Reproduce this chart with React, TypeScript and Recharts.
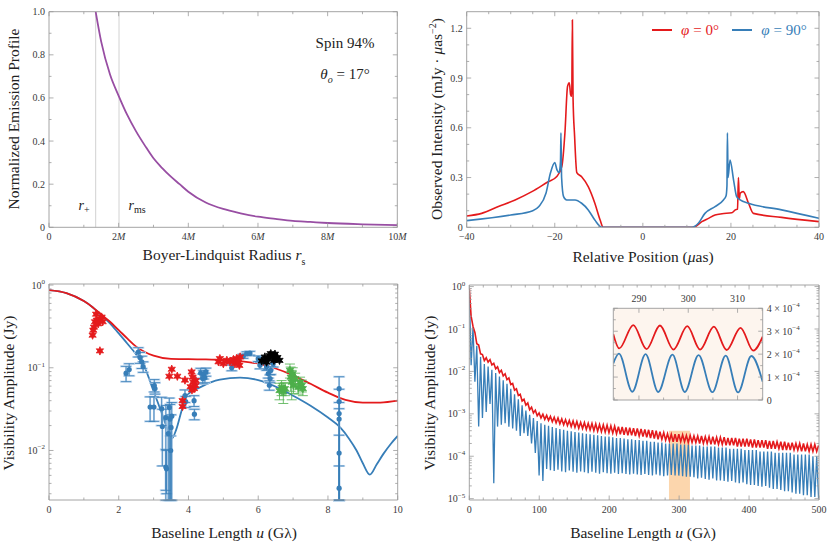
import React from "react";
import {
  ComposedChart,
  Line,
  Scatter,
  ErrorBar,
  XAxis,
  YAxis,
  ReferenceLine,
  ReferenceArea,
} from "recharts";

const SERIF = '"Liberation Serif", "DejaVu Serif", serif';
const RED = "#e41a1c";
const BLUE = "#377eb8";
const GREEN = "#4daf4a";
const PURPLE = "#984ea3";
const FRAME = "#9a9a9a";
const TICK_TEXT = "#3a3a3a";

// ---------- top left: emission profile ----------
const emissionR = [1.34, 1.5, 1.75, 2.0, 2.25, 2.5, 2.75, 3.0, 3.25, 3.5, 3.75, 4.0, 4.5, 5.0, 5.5, 6.0, 6.5, 7.0, 7.5, 8.0, 9.0, 10.0];
const emissionProfile = [1.0, 0.86, 0.71, 0.61, 0.52, 0.445, 0.38, 0.32, 0.275, 0.235, 0.2, 0.165, 0.115, 0.085, 0.065, 0.049, 0.039, 0.03, 0.025, 0.02, 0.014, 0.01];
const rHorizon = 1.34;
const rMs = 2.01;

// ---------- top right: intensity cuts ----------
const posPhi0 = [-40, -36.6, -32.8, -29, -25.2, -21.5, -19.6, -18.4, -17.7, -17.1, -16.7, -16.4, -16.15, -16.0, -15.85, -15.5, -15.0, -13.9, -12.4, -10.9, -9.7, -9.0, 11.5, 13.4, 14.9, 16.4, 18.0, 20.2, 21.0, 21.5, 21.7, 21.9, 22.1, 22.8, 24.0, 25.1, 31.5, 40];
const intPhi0 = [0.068, 0.084, 0.125, 0.165, 0.215, 0.275, 0.305, 0.366, 0.567, 0.85, 0.872, 0.8, 0.79, 1.25, 0.78, 0.55, 0.33, 0.305, 0.245, 0.145, 0.044, 0, 0, 0.034, 0.054, 0.074, 0.082, 0.088, 0.105, 0.11, 0.3, 0.17, 0.205, 0.215, 0.145, 0.084, 0.06, 0.034];
const posPhi90 = [-40, -30, -25, -23.6, -22, -21, -20, -19.5, -19.0, -18.7, -18.6, -18.45, -18.0, -17.3, -15.4, -13.9, -12.4, -10.9, -9.3, 11.1, 12.6, 14.1, 16.4, 18.3, 18.9, 19.1, 19.2, 19.35, 19.8, 20.6, 21.3, 22.1, 24.0, 31.5, 40];
const intPhi90 = [0.04, 0.074, 0.1, 0.125, 0.205, 0.326, 0.39, 0.346, 0.33, 0.4, 0.57, 0.3, 0.185, 0.165, 0.165, 0.145, 0.105, 0.044, 0, 0, 0.024, 0.084, 0.125, 0.165, 0.19, 0.25, 0.57, 0.3, 0.406, 0.285, 0.185, 0.165, 0.145, 0.105, 0.054];

// ---------- bottom left: model visibilities and data ----------
const modelRedU = [0, 0.5, 1, 1.25, 1.5, 1.75, 2.0, 2.25, 2.5, 2.75, 3, 3.5, 4, 4.5, 5, 5.5, 6, 6.5, 7, 7.5, 8, 8.5, 9, 9.5, 10];
const modelRedV = [0.87, 0.8, 0.64, 0.54, 0.44, 0.36, 0.285, 0.225, 0.18, 0.155, 0.14, 0.128, 0.127, 0.126, 0.125, 0.12, 0.112, 0.098, 0.081, 0.064, 0.05, 0.041, 0.038, 0.038, 0.04];
const modelBlueU = [0, 0.5, 1, 1.25, 1.5, 1.75, 2.0, 2.25, 2.5, 2.75, 3.0, 3.2, 3.4, 3.52, 3.65, 3.8, 3.95, 4.33, 4.9, 5.48, 6.0, 6.62, 7.0, 7.49, 8.0, 8.35, 8.6, 8.82, 9.0, 9.2, 9.4, 9.59, 9.8, 10];
const modelBlueV = [0.87, 0.8, 0.64, 0.54, 0.43, 0.345, 0.26, 0.195, 0.145, 0.1, 0.052, 0.031, 0.018, 0.0139, 0.018, 0.03, 0.046, 0.058, 0.072, 0.076, 0.071, 0.056, 0.046, 0.035, 0.025, 0.019, 0.014, 0.01, 0.007, 0.0051, 0.0068, 0.0091, 0.012, 0.015];

const obsRedU = [1.25, 1.27, 1.29, 1.32, 1.37, 1.35, 1.41, 1.46, 1.51, 1.54, 1.46, 3.45, 3.52, 3.68, 3.83, 3.83, 3.9, 4.09, 4.12, 4.14, 4.06, 4.16, 4.2, 4.1, 4.21, 4.86, 4.9, 5.0, 5.1, 5.19, 5.29, 5.33, 5.38, 5.43, 5.48, 5.46];
const obsRedV = [0.248, 0.285, 0.31, 0.36, 0.375, 0.445, 0.34, 0.39, 0.41, 0.36, 0.16, 0.079, 0.096, 0.079, 0.034, 0.04, 0.071, 0.089, 0.077, 0.067, 0.059, 0.056, 0.061, 0.054, 0.07, 0.118, 0.129, 0.112, 0.123, 0.118, 0.126, 0.112, 0.129, 0.118, 0.135, 0.107];

const obsBlueU = [2.21, 2.3, 2.56, 2.61, 2.66, 2.7, 2.9, 3.01, 3.02, 3.04, 3.23, 3.25, 3.35, 3.35, 3.37, 3.42, 3.45, 3.47, 3.5, 3.52, 3.49, 3.9, 3.92, 4.16, 4.17, 4.35, 4.41, 4.43, 4.47, 4.5, 5.24, 5.36, 5.57, 5.67, 5.76, 6.0, 6.05, 6.15, 6.24, 6.29, 6.32, 6.34, 6.36, 6.43, 8.32, 8.32, 8.32, 8.32, 8.32, 8.32];
const obsBlueV = [0.086, 0.095, 0.155, 0.133, 0.118, 0.103, 0.0335, 0.0335, 0.061, 0.056, 0.032, 0.0195, 0.025, 0.0063, 0.006, 0.016, 0.033, 0.024, 0.019, 0.026, 0.01, 0.046, 0.039, 0.04, 0.0275, 0.0865, 0.074, 0.083, 0.076, 0.089, 0.1, 0.12, 0.138, 0.148, 0.15, 0.129, 0.107, 0.123, 0.103, 0.085, 0.0615, 0.074, 0.093, 0.112, 0.0559, 0.039, 0.028, 0.024, 0.0093, 0.0035];
const obsBlueLo = [0.018, 0.015, 0.02, 0.02, 0.02, 0.015, 0.011, 0.011, 0.01, 0.008, 0.012, 0.013, 0.0225, 0.003, 0.003, 0.0135, 0.0305, 0.0215, 0.0165, 0.0235, 0.0075, 0.008, 0.006, 0.006, 0.004, 0.012, 0.01, 0.01, 0.01, 0.01, 0.008, 0.01, 0.008, 0.008, 0.008, 0.01, 0.01, 0.01, 0.01, 0.01, 0.008, 0.008, 0.01, 0.01, 0.0534, 0.0365, 0.0255, 0.0215, 0.0068, 0.001];
const obsBlueHi = [0.018, 0.017, 0.02, 0.02, 0.02, 0.015, 0.011, 0.011, 0.011, 0.01, 0.012, 0.012, 0.01, 0.004, 0.004, 0.01, 0.01, 0.012, 0.008, 0.012, 0.005, 0.008, 0.006, 0.006, 0.004, 0.012, 0.01, 0.01, 0.01, 0.01, 0.008, 0.01, 0.008, 0.008, 0.008, 0.01, 0.01, 0.01, 0.01, 0.01, 0.008, 0.008, 0.01, 0.01, 0.022, 0.016, 0.01, 0.008, 0.006, 0.003];

const obsBlackU = [6.1, 6.19, 6.29, 6.36, 6.41, 6.48, 6.55, 6.61, 6.24, 6.45, 6.33, 6.5];
const obsBlackV = [0.121, 0.135, 0.129, 0.148, 0.138, 0.146, 0.133, 0.123, 0.117, 0.123, 0.14, 0.128];

const obsGreenU = [6.61, 6.67, 6.72, 6.77, 6.91, 6.93, 6.96, 7.01, 6.99, 7.06, 7.2, 7.25, 7.28, 7.15];
const obsGreenV = [0.053, 0.058, 0.051, 0.056, 0.093, 0.077, 0.067, 0.061, 0.085, 0.074, 0.067, 0.061, 0.056, 0.058];
const obsGreenErr = [0.012, 0.012, 0.014, 0.01, 0.018, 0.025, 0.026, 0.012, 0.015, 0.012, 0.01, 0.01, 0.01, 0.01];

// ---------- bottom right: long baselines (samples alternate dip / peak) ----------
const longStart = 2.6;
const longHalfStep = 2.7;
const longFirstValue = 0.91;
const redLongPeaks = [
  0.2, 0.083, 0.042, 0.025, 0.021, 0.019, 0.0155, 0.0128, 0.0106, 0.0088,
  0.007, 0.0052, 0.0039, 0.0029, 0.0022, 0.0018, 0.00143, 0.00122, 0.00105, 0.00098,
  0.00092, 0.00087, 0.00083, 0.0008, 0.00076, 0.00073, 0.0007, 0.00068, 0.00066, 0.00063,
  0.00062, 0.0006, 0.00059, 0.00058, 0.00056, 0.00055, 0.00054, 0.00052, 0.00051, 0.0005,
  0.00049, 0.00048, 0.00047, 0.00046, 0.00045, 0.00044, 0.00043, 0.00042, 0.00041, 0.0004,
  0.00038, 0.00036, 0.00034, 0.00033, 0.00033, 0.00033, 0.00032, 0.00031, 0.00031, 0.0003,
  0.0003, 0.0003, 0.00029, 0.00029, 0.00029, 0.00028, 0.00028, 0.00028, 0.00027, 0.00027,
  0.00027, 0.00026, 0.00026, 0.00026, 0.00025, 0.00025, 0.00024, 0.00024, 0.00024, 0.00023,
  0.00023, 0.00022, 0.00022, 0.00022, 0.00021, 0.00021, 0.0002, 0.0002, 0.0002, 0.00019,
  0.00019, 0.00019, 0.00018,
];
const redLongTroughs = [
  0.115, 0.045, 0.026, 0.018, 0.0165, 0.0142, 0.0115, 0.0094, 0.0078, 0.0064,
  0.0049, 0.0036, 0.0027, 0.002, 0.0016, 0.00125, 0.00105, 0.0009, 0.0008, 0.00074,
  0.0007, 0.00065, 0.00061, 0.00058, 0.00055, 0.00053, 0.0005, 0.00048, 0.00046, 0.00045,
  0.00043, 0.00042, 0.0004, 0.00039, 0.00038, 0.00037, 0.00036, 0.00035, 0.00034, 0.00033,
  0.00032, 0.00031, 0.00031, 0.0003, 0.0003, 0.00029, 0.00028, 0.00027, 0.00026, 0.00025,
  0.00025, 0.00024, 0.00023, 0.00022, 0.00022, 0.00022, 0.00022, 0.00021, 0.00021, 0.00021,
  0.0002, 0.0002, 0.0002, 0.00019, 0.00019, 0.00019, 0.00019, 0.00018, 0.00018, 0.00018,
  0.00017, 0.00017, 0.00017, 0.00017, 0.00016, 0.00016, 0.00016, 0.00016, 0.00015, 0.00015,
  0.00015, 0.00015, 0.00014, 0.00014, 0.00014, 0.00014, 0.00014, 0.00013, 0.00013, 0.00013,
  0.00013, 0.00013,
];
const blueLongDips = [
  0.014, 0.0057, 0.0005, 0.0008, 0.0011, 0.0017, 0.000023, 0.0005, 0.00055, 0.0006,
  0.0005, 0.00045, 0.0004, 0.0003, 0.00035, 0.0003, 0.0002, 0.00012, 0.000035, 0.000026,
  0.00005, 0.000047, 0.000045, 0.000048, 0.000044, 0.000042, 0.000046, 0.000043, 0.000041, 0.000044,
  0.000042, 0.00004, 0.000043, 0.000041, 0.000039, 0.000042, 0.00004, 0.000039, 0.000041, 0.000038,
  0.00004, 0.000038, 0.000037, 0.000039, 0.000037, 0.000036, 0.000038, 0.000036, 0.000035, 0.000037,
  0.000035, 0.000034, 0.000035, 0.000036, 0.000035, 0.000035, 0.000034, 0.000033, 0.000033, 0.000032,
  0.00003, 0.000031, 0.000029, 0.000028, 0.00003, 0.000027, 0.000027, 0.000026, 0.000025, 0.000026,
  0.000024, 0.000023, 0.000024, 0.000022, 0.000021, 0.000021, 0.00002, 0.000019, 0.00002, 0.000018,
  0.000017, 0.000017, 0.000016, 0.000015, 0.000015, 0.000014, 0.000013, 0.000013, 0.000012, 0.000012,
  0.000011, 0.000011, 0.00001,
];
const blueLongPeaks = [
  0.11, 0.04, 0.022, 0.015, 0.013, 0.011, 0.0092, 0.0076, 0.0062, 0.0051,
  0.0039, 0.0029, 0.0022, 0.0016, 0.0012, 0.00095, 0.0008, 0.00068, 0.0006, 0.00055,
  0.00052, 0.00049, 0.00046, 0.00044, 0.00042, 0.0004, 0.00039, 0.00037, 0.00036, 0.00035,
  0.00034, 0.00033, 0.00032, 0.00031, 0.0003, 0.00029, 0.00029, 0.00028, 0.00027, 0.00027,
  0.00026, 0.00025, 0.00025, 0.00024, 0.00024, 0.00023, 0.00023, 0.00022, 0.00022, 0.00021,
  0.00021, 0.0002, 0.0002, 0.0002, 0.0002, 0.00019, 0.00019, 0.00019, 0.00018, 0.00018,
  0.00018, 0.00017, 0.00017, 0.00017, 0.00017, 0.00016, 0.00016, 0.00016, 0.00015, 0.00015,
  0.00015, 0.00015, 0.00014, 0.00014, 0.00014, 0.00014, 0.00013, 0.00013, 0.00013, 0.00013,
  0.00012, 0.00012, 0.00012, 0.00012, 0.00012, 0.00011, 0.00011, 0.00011, 0.00011, 0.00011,
  0.0001, 0.0001,
];
const bandFrom = 285.5;
const bandTo = 315.5;
const bandTop = 4e-4;

// ---------- inset ----------
const insetRedU = [284.8, 286.0, 288.85, 291.55, 294.26, 297.0, 299.8, 302.4, 305.2, 307.8, 310.6, 313.2, 315.1];
const insetRedV = [2.87e-4, 2.25e-4, 3.27e-4, 2.22e-4, 3.25e-4, 2.2e-4, 3.22e-4, 2.2e-4, 3.2e-4, 2.18e-4, 3.15e-4, 2.15e-4, 2.76e-4];
const insetBlueU = [284.8, 285.95, 288.65, 291.35, 293.9, 296.8, 299.3, 302.1, 304.9, 307.6, 310.1, 312.8, 315.1];
const insetBlueV = [1.6e-4, 2.02e-4, 0.36e-4, 2.0e-4, 0.35e-4, 1.98e-4, 0.35e-4, 1.96e-4, 0.34e-4, 1.94e-4, 0.33e-4, 1.92e-4, 0.8e-4];

// ---------- ticks ----------
const tlXTicks = [0, 1, 2, 3, 4, 5, 6, 7, 8, 9, 10];
const tlXMajor = [0, 2, 4, 6, 8, 10];
const tlYTicks = [0, 0.1, 0.2, 0.3, 0.4, 0.5, 0.6, 0.7, 0.8, 0.9, 1.0];
const tlYMajor = [0, 0.2, 0.4, 0.6, 0.8, 1.0];
const tlYLabels = ["0", "0.2", "0.4", "0.6", "0.8", "1.0"];

const trXTicks = [-40, -35, -30, -25, -20, -15, -10, -5, 0, 5, 10, 15, 20, 25, 30, 35, 40];
const trXMajor = [-40, -20, 0, 20, 40];
const trXLabels = ["\u221240", "\u221220", "0", "20", "40"];
const trYTicks = [0, 0.1, 0.2, 0.3, 0.4, 0.5, 0.6, 0.7, 0.8, 0.9, 1.0, 1.1, 1.2];
const trYMajor = [0, 0.3, 0.6, 0.9, 1.2];
const trYLabels = ["0", "0.3", "0.6", "0.9", "1.2"];

const blXTicks = [0, 1, 2, 3, 4, 5, 6, 7, 8, 9, 10];
const blXMajor = [0, 2, 4, 6, 8, 10];
const blXLabels = ["0", "2", "4", "6", "8", "10"];
const blYTicks = [0.003, 0.004, 0.005, 0.006, 0.007, 0.008, 0.009, 0.01, 0.02, 0.03, 0.04, 0.05, 0.06, 0.07, 0.08, 0.09, 0.1, 0.2, 0.3, 0.4, 0.5, 0.6, 0.7, 0.8, 0.9, 1];
const blYMajor = [1, 0.1, 0.01];
const blYMin = 0.00252;

const brXTicks = [0, 20, 40, 60, 80, 100, 120, 140, 160, 180, 200, 220, 240, 260, 280, 300, 320, 340, 360, 380, 400, 420, 440, 460, 480, 500];
const brXMajor = [0, 100, 200, 300, 400, 500];
const brXLabels = ["0", "100", "200", "300", "400", "500"];
const brYTicks = [
  1e-5, 2e-5, 3e-5, 4e-5, 5e-5, 6e-5, 7e-5, 8e-5, 9e-5,
  1e-4, 2e-4, 3e-4, 4e-4, 5e-4, 6e-4, 7e-4, 8e-4, 9e-4,
  1e-3, 2e-3, 3e-3, 4e-3, 5e-3, 6e-3, 7e-3, 8e-3, 9e-3,
  1e-2, 2e-2, 3e-2, 4e-2, 5e-2, 6e-2, 7e-2, 8e-2, 9e-2,
  0.1, 0.2, 0.3, 0.4, 0.5, 0.6, 0.7, 0.8, 0.9, 1,
];
const brYMajor = [1, 0.1, 0.01, 1e-3, 1e-4, 1e-5];
const brYMin = 9.3e-6;

const inXTicks = [285, 290, 295, 300, 305, 310, 315];
const inXMajor = [290, 300, 310];
const inXLabels = ["290", "300", "310"];
const inYTicks = [0, 0.5e-4, 1e-4, 1.5e-4, 2e-4, 2.5e-4, 3e-4, 3.5e-4, 4e-4];
const inYMajor = [0, 1e-4, 2e-4, 3e-4, 4e-4];

// ---------- helpers ----------
const toPoints = (xs: number[], ys: number[]) => xs.map((x, i) => ({ x, y: ys[i] }));

function interleave(first: number, even: number[], odd: number[]) {
  const pts = [{ x: 0, y: first }];
  for (let i = 0; i < even.length; i++) {
    pts.push({ x: +(longStart + 2 * i * longHalfStep).toFixed(2), y: even[i] });
    if (i < odd.length) pts.push({ x: +(longStart + (2 * i + 1) * longHalfStep).toFixed(2), y: odd[i] });
  }
  return pts;
}

const pow10 = (e: string) => (
  <>
    10
    <tspan dy={-4.5} fontSize={7}>
      {e}
    </tspan>
  </>
);
const sci = (m: string) => (
  <>
    {m + " \u00d7 10"}
    <tspan dy={-4.5} fontSize={7}>
      {"\u22124"}
    </tspan>
  </>
);
const mLabel = (n: string) => (
  <>
    {n}
    <tspan fontStyle="italic">M</tspan>
  </>
);

type Side = "bottom" | "top" | "left" | "right";

function makeTick(side: Side, major: number[], labels: React.ReactNode[] | null) {
  return (props: any) => {
    const x = Number(props.x);
    const y = Number(props.y);
    const v = Number(props.payload?.value);
    const idx = major.findIndex((m) => Math.abs(v - m) <= Math.abs(m) * 1e-6 + 1e-12);
    const len = idx >= 0 ? 4.5 : 2.5;
    let x2 = x;
    let y2 = y;
    let tx = x;
    let ty = y;
    let anchor: "middle" | "end" | "start" = "middle";
    if (side === "bottom") {
      y2 = y - len;
      ty = y + 13;
    } else if (side === "top") {
      y2 = y + len;
      ty = y - 6;
    } else if (side === "left") {
      x2 = x + len;
      tx = x - 4;
      ty = y + 3.5;
      anchor = "end";
    } else {
      x2 = x - len;
      tx = x + 4;
      ty = y + 3.5;
      anchor = "start";
    }
    const lbl = idx >= 0 && labels ? labels[idx] : null;
    return (
      <g>
        <line x1={x} y1={y} x2={x2} y2={y2} stroke={FRAME} strokeWidth={0.8} />
        {lbl != null ? (
          <text x={tx} y={ty} textAnchor={anchor} fontSize={10} fontFamily={SERIF} fill={TICK_TEXT}>
            {lbl}
          </text>
        ) : null}
      </g>
    );
  };
}

type AxisSpec = {
  domain: [number, number];
  ticks: number[];
  major: number[];
  labels: React.ReactNode[];
  log?: boolean;
};

// four framing axes; each is 1px thick so the plot box is set by the margins
function frameAxes(xs: AxisSpec, ys: AxisSpec, xSide: "bottom" | "top" = "bottom", ySide: "left" | "right" = "left") {
  const xOther = xSide === "bottom" ? "top" : "bottom";
  const yOther = ySide === "left" ? "right" : "left";
  const common = { allowDataOverflow: true, interval: 0 as const, tickSize: 0, tickMargin: 0, tickLine: false, axisLine: { stroke: FRAME, strokeWidth: 0.9 } };
  return [
    <XAxis key="x0" xAxisId={0} orientation={xSide} type="number" dataKey="x" domain={xs.domain} ticks={xs.ticks} height={1} tick={makeTick(xSide, xs.major, xs.labels)} {...common} />,
    <XAxis key="x1" xAxisId="frame" orientation={xOther} type="number" dataKey="x" domain={xs.domain} ticks={xs.ticks} height={1} tick={makeTick(xOther, xs.major, null)} {...common} />,
    <YAxis key="y0" yAxisId={0} orientation={ySide} type="number" dataKey="y" scale={ys.log ? "log" : "auto"} domain={ys.domain} ticks={ys.ticks} width={1} tick={makeTick(ySide, ys.major, ys.labels)} {...common} />,
    <YAxis key="y1" yAxisId="frame" orientation={yOther} type="number" dataKey="y" scale={ys.log ? "log" : "auto"} domain={ys.domain} ticks={ys.ticks} width={1} tick={makeTick(yOther, ys.major, null)} {...common} />,
  ];
}

function starPath(cx: number, cy: number, r: number) {
  let d = "";
  for (let i = 0; i < 12; i++) {
    const a = (Math.PI / 6) * i - Math.PI / 2;
    const rr = i % 2 === 0 ? r : r * 0.5;
    d += (i === 0 ? "M" : "L") + (cx + rr * Math.cos(a)).toFixed(2) + "," + (cy + rr * Math.sin(a)).toFixed(2);
  }
  return d + "Z";
}

const starShape = (color: string) => (p: any) => <path d={starPath(p.cx, p.cy, 4.2)} fill={color} stroke={color} strokeWidth={0.8} />;
const dotShape = (color: string) => (p: any) => <circle cx={p.cx} cy={p.cy} r={2.6} fill={color} />;

function Title(props: { x: number; y: number; rotate?: boolean; size?: number; color?: string; children: React.ReactNode }) {
  return (
    <div
      style={{
        position: "absolute",
        left: props.x,
        top: props.y,
        transform: `translate(-50%, -50%)${props.rotate ? " rotate(-90deg)" : ""}`,
        whiteSpace: "nowrap",
        fontSize: props.size ?? 15.5,
        color: props.color ?? "#222",
        lineHeight: 1,
        fontFamily: SERIF,
      }}
    >
      {props.children}
    </div>
  );
}

// ---------- assembled series ----------
const emissionData = toPoints(emissionR, emissionProfile);
const phi0Data = toPoints(posPhi0, intPhi0);
const phi90Data = toPoints(posPhi90, intPhi90);
const modelRed = toPoints(modelRedU, modelRedV);
const modelBlue = toPoints(modelBlueU, modelBlueV);
const redObs = toPoints(obsRedU, obsRedV);
const blackObs = toPoints(obsBlackU, obsBlackV);
const blueObs = obsBlueU.map((x, i) => ({ x, y: obsBlueV[i], err: [obsBlueLo[i], obsBlueHi[i]] }));
const greenObs = obsGreenU.map((x, i) => ({ x, y: obsGreenV[i], err: [obsGreenErr[i], obsGreenErr[i]] }));
const redLong = interleave(longFirstValue, redLongPeaks, redLongTroughs);
const blueLong = interleave(longFirstValue, blueLongDips, blueLongPeaks);
const insetRed = toPoints(insetRedU, insetRedV);
const insetBlue = toPoints(insetBlueU, insetBlueV);

export default function App() {
  return (
    <div style={{ position: "absolute", left: 0, top: 0, width: 830, height: 544, background: "#fff", overflow: "hidden", fontFamily: SERIF }}>
      {/* top left */}
      <div style={{ position: "absolute", left: 0, top: 0 }}>
        <ComposedChart width={415} height={270} margin={{ top: 10.7, right: 16.7, bottom: 41.7, left: 48 }}>
          {frameAxes(
            { domain: [0, 10], ticks: tlXTicks, major: tlXMajor, labels: ["0", mLabel("2"), mLabel("4"), mLabel("6"), mLabel("8"), mLabel("10")] },
            { domain: [0, 1], ticks: tlYTicks, major: tlYMajor, labels: tlYLabels }
          )}
          <ReferenceLine x={rHorizon} stroke="#d2d2d2" strokeWidth={1} />
          <ReferenceLine x={rMs} stroke="#d2d2d2" strokeWidth={1} />
          <Line data={emissionData} dataKey="y" type="monotone" stroke={PURPLE} strokeWidth={1.8} dot={false} isAnimationActive={false} />
        </ComposedChart>
      </div>

      {/* top right */}
      <div style={{ position: "absolute", left: 415, top: 0 }}>
        <ComposedChart width={415} height={270} margin={{ top: 10.7, right: 10, bottom: 41.7, left: 50.7 }}>
          {frameAxes(
            { domain: [-40, 40], ticks: trXTicks, major: trXMajor, labels: trXLabels },
            { domain: [0, 1.3], ticks: trYTicks, major: trYMajor, labels: trYLabels }
          )}
          <Line data={phi0Data} dataKey="y" type="monotone" stroke={RED} strokeWidth={1.6} dot={false} isAnimationActive={false} />
          <Line data={phi90Data} dataKey="y" type="monotone" stroke={BLUE} strokeWidth={1.6} dot={false} isAnimationActive={false} />
        </ComposedChart>
      </div>

      {/* bottom left */}
      <div style={{ position: "absolute", left: 0, top: 270 }}>
        <ComposedChart width={415} height={274} margin={{ top: 13, right: 16.3, bottom: 43, left: 48 }}>
          {frameAxes(
            { domain: [0, 10], ticks: blXTicks, major: blXMajor, labels: blXLabels },
            { domain: [blYMin, 1.03], ticks: blYTicks, major: blYMajor, labels: [pow10("0"), pow10("\u22121"), pow10("\u22122")], log: true }
          )}
          <Line data={modelBlue} dataKey="y" type="monotone" stroke={BLUE} strokeWidth={1.8} dot={false} isAnimationActive={false} />
          <Line data={modelRed} dataKey="y" type="monotone" stroke={RED} strokeWidth={1.8} dot={false} isAnimationActive={false} />
          <Scatter data={blueObs} dataKey="y" shape={dotShape(BLUE)} isAnimationActive={false}>
            <ErrorBar dataKey="err" direction="y" width={6} stroke="#b9d3ec" strokeWidth={2} />
            <ErrorBar dataKey="err" direction="y" width={5} stroke={BLUE} strokeWidth={0.8} />
          </Scatter>
          <Scatter data={redObs} dataKey="y" shape={starShape(RED)} isAnimationActive={false} />
          <Scatter data={blackObs} dataKey="y" shape={starShape("#000")} isAnimationActive={false} />
          <Scatter data={greenObs} dataKey="y" shape={starShape(GREEN)} isAnimationActive={false}>
            <ErrorBar dataKey="err" direction="y" width={5} stroke={GREEN} strokeWidth={0.8} />
          </Scatter>
        </ComposedChart>
      </div>

      {/* bottom right */}
      <div style={{ position: "absolute", left: 415, top: 270 }}>
        <ComposedChart width={415} height={274} margin={{ top: 14, right: 10, bottom: 43, left: 53.3 }}>
          {frameAxes(
            { domain: [0, 500], ticks: brXTicks, major: brXMajor, labels: brXLabels },
            {
              domain: [brYMin, 1.09],
              ticks: brYTicks,
              major: brYMajor,
              labels: [pow10("0"), pow10("\u22121"), pow10("\u22122"), pow10("\u22123"), pow10("\u22124"), pow10("\u22125")],
              log: true,
            }
          )}
          <Line data={blueLong} dataKey="y" type="linear" stroke={BLUE} strokeWidth={1.3} dot={false} isAnimationActive={false} />
          <Line data={redLong} dataKey="y" type="linear" stroke={RED} strokeWidth={1.6} dot={false} isAnimationActive={false} />
          <ReferenceArea x1={bandFrom} x2={bandTo} y1={brYMin} y2={bandTop} ifOverflow="hidden" fill="#f9a44a" fillOpacity={0.45} stroke="none" />
        </ComposedChart>
      </div>

      {/* inset */}
      <div style={{ position: "absolute", left: 600, top: 285 }}>
        <ComposedChart width={230} height={125} margin={{ top: 22.3, right: 66.3, bottom: 9, left: 12.3 }}>
          {frameAxes(
            { domain: [284.8, 315.1], ticks: inXTicks, major: inXMajor, labels: inXLabels },
            { domain: [0, 4e-4], ticks: inYTicks, major: inYMajor, labels: ["0", sci("1"), sci("2"), sci("3"), sci("4")] },
            "top",
            "right"
          )}
          <ReferenceArea x1={284.8} x2={315.1} y1={0} y2={4e-4} fill="#fdf5ee" fillOpacity={1} stroke="none" />
          <Line data={insetBlue} dataKey="y" type="monotone" stroke={BLUE} strokeWidth={1.8} dot={false} isAnimationActive={false} />
          <Line data={insetRed} dataKey="y" type="monotone" stroke={RED} strokeWidth={1.8} dot={false} isAnimationActive={false} />
        </ComposedChart>
      </div>

      {/* annotations */}
      <Title x={345} y={43} size={15}>Spin 94%</Title>
      <Title x={345} y={76} size={15}>
        <i>θ</i>
        <sub style={{ fontSize: 10 }}>
          <i>o</i>
        </sub>{" "}
        = 17°
      </Title>
      <Title x={84} y={207} size={14}>
        <i>r</i>
        <sub style={{ fontSize: 10 }}>+</sub>
      </Title>
      <Title x={137} y={207} size={14}>
        <i>r</i>
        <sub style={{ fontSize: 10 }}>ms</sub>
      </Title>

      {/* legend */}
      <div style={{ position: "absolute", left: 652, top: 29, width: 20, height: 2, background: RED }} />
      <Title x={700} y={30} size={15} color={RED}>
        <i>φ</i> = 0°
      </Title>
      <div style={{ position: "absolute", left: 732, top: 29, width: 20, height: 2, background: BLUE }} />
      <Title x={784} y={30} size={15} color={BLUE}>
        <i>φ</i> = 90°
      </Title>

      {/* axis titles */}
      <Title x={14} y={119} rotate>
        Normalized Emission Profile
      </Title>
      <Title x={224} y={257}>
        Boyer-Lindquist Radius <i>r</i>
        <sub style={{ fontSize: 10 }}>s</sub>
      </Title>
      <Title x={436} y={119} rotate>
        Observed Intensity (mJy · <i>μ</i>as<sup style={{ fontSize: 10 }}>−2</sup>)
      </Title>
      <Title x={643} y={257}>
        Relative Position (<i>μ</i>as)
      </Title>
      <Title x={9} y={393} rotate>
        Visibility Amplitude (Jy)
      </Title>
      <Title x={224} y={533}>
        Baseline Length <i>u</i> (Gλ)
      </Title>
      <Title x={430} y={393} rotate>
        Visibility Amplitude (Jy)
      </Title>
      <Title x={643} y={533}>
        Baseline Length <i>u</i> (Gλ)
      </Title>
    </div>
  );
}
